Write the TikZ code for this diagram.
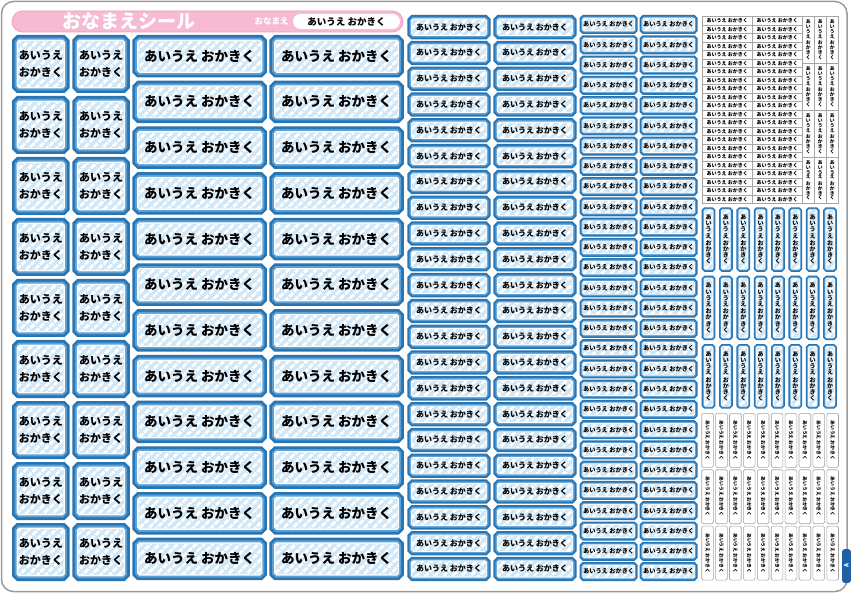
\documentclass[tikz,border=0pt]{standalone}
\usepackage{fontspec}
\setmainfont{Noto Sans CJK JP}
\usetikzlibrary{patterns.meta}
\definecolor{stkblue}{RGB}{40,117,180}
\definecolor{ringblue}{RGB}{92,160,212}
\definecolor{stklight}{RGB}{208,231,247}
\definecolor{pinkbar}{RGB}{246,186,210}
\definecolor{pinkline}{RGB}{240,160,195}
\definecolor{sheetgray}{RGB}{155,155,155}
\definecolor{tinygray}{RGB}{165,165,165}
\definecolor{tabblue}{RGB}{30,95,165}
\newcommand\nmtext{あいうえ おかきく}
\newcommand\nmvert{あ\\い\\う\\え\\[1.2pt]お\\か\\き\\く}
\tikzset{
  stk/.style n args={3}{inner sep=0pt, outer sep=0pt, text=black,
    preaction={draw=stkblue, line width=#1},
    preaction={draw=ringblue, line width=#2},
    preaction={draw=white, line width=#3},
    preaction={fill=stklight},
    pattern={Lines[angle=45,distance=6.4pt,line width=3.2pt]}, pattern color=white},
  sqstk/.style={stk={11.8pt}{6.4pt}{2.4pt}, rounded corners=1.5pt, minimum width=45.7pt, minimum height=46.2pt, align=center,
    font=\bfseries\fontsize{11}{16.5}\selectfont},
  widestk/.style={stk={11.8pt}{6.4pt}{2.4pt}, rounded corners=1.5pt, minimum width=122.7pt, minimum height=30.7pt,
    font=\bfseries\fontsize{13.5}{14}\selectfont},
  midstk/.style={stk={8.8pt}{4.8pt}{1.8pt}, rounded corners=1.5pt, minimum width=74.6pt, minimum height=15.5pt,
    font=\bfseries\fontsize{8}{9}\selectfont},
  smlstk/.style={stk={7pt}{3.8pt}{1.6pt}, rounded corners=1pt, minimum width=50.3pt, minimum height=12pt,
    font=\bfseries\fontsize{6.2}{7}\selectfont},
  vstk/.style={stk={5.6pt}{3pt}{1.4pt}, rounded corners=1pt, minimum width=8.1pt, minimum height=58.9pt, align=center,
    font=\bfseries\fontsize{6}{6.15}\selectfont},
  tinycell/.style={draw=tinygray, line width=0.6pt, fill=white, inner sep=0pt, outer sep=0pt, text=black},
  tinyh/.style={tinycell, minimum width=50pt, minimum height=8.5pt, font=\bfseries\fontsize{5}{5}\selectfont},
  tinyv/.style={tinycell, minimum width=12pt, minimum height=46.75pt, align=center, font=\bfseries\fontsize{4.8}{4.95}\selectfont},
  tinyr/.style={tinycell, rounded corners=1.5pt, minimum width=54pt, minimum height=11.7pt, rotate=-90, font=\bfseries\fontsize{4.8}{5}\selectfont},
  tabstyle/.style={fill=tabblue, rounded corners=3pt, text=white, inner sep=0pt, minimum width=34pt, minimum height=9pt, rotate=90, font=\bfseries\fontsize{6}{6}\selectfont},
}
\begin{document}
\begin{tikzpicture}[x=1pt,y=-1pt]
\useasboundingbox (0,0) rectangle (851,593);
\fill[white] (0,0) rectangle (851,593);
% sheet
\draw[sheetgray, line width=1.5pt, rounded corners=12pt, fill=white] (1.5,1.5) rectangle (847,591.5);
% title bar
\draw[pinkline, line width=0.8pt, fill=pinkbar, rounded corners=10.5pt] (12,11) rectangle (403,32);
\node[text=white, font=\bfseries\fontsize{19}{19}\selectfont, inner sep=0pt] (title) at (129,21.5) {おなまえシール};
\node[text=white, font=\bfseries\fontsize{8.5}{8.5}\selectfont, inner sep=0pt] (nmlabel) at (271.5,21.5) {おなまえ};
\node[fill=white, rounded corners=7.5pt, minimum width=107pt, minimum height=15pt, inner sep=0pt,
  font=\bfseries\fontsize{9.5}{9.5}\selectfont] (nmbox) at (346.5,21.5) {\nmtext};
% square stickers
\foreach \i in {0,...,8}{
  \node[sqstk] (sq-\i-0) at (40.75,{64+61*\i}) {あいうえ\\おかきく};
  \node[sqstk] (sq-\i-1) at (101,{64+61*\i}) {あいうえ\\おかきく};
}
% wide stickers
\foreach \i in {0,...,11}{
  \node[widestk] (wd-\i-0) at (199.7,{56.25+45.7*\i}) {\nmtext};
  \node[widestk] (wd-\i-1) at (336.65,{56.25+45.7*\i}) {\nmtext};
}
% medium stickers
\foreach \i in {0,...,21}{
  \node[midstk] (md-\i-0) at (449,{27.15+25.8*\i}) {\nmtext};
  \node[midstk] (md-\i-1) at (535,{27.15+25.8*\i}) {\nmtext};
}
% small stickers
\foreach \i in {0,...,27}{
  \node[smlstk] (sm-\i-0) at (608.65,{24.5+20.26*\i}) {\nmtext};
  \node[smlstk] (sm-\i-1) at (668.65,{24.5+20.26*\i}) {\nmtext};
}
% tiny grid
\foreach \i in {0,...,21}{
  \node[tinyh] (th-\i-0) at (727.3,{20.95+8.5*\i}) {\nmtext};
  \node[tinyh] (th-\i-1) at (777.3,{20.95+8.5*\i}) {\nmtext};
}
\foreach \i in {0,...,3}{
  \foreach \j in {0,1,2}{
    \node[tinyv] (tv-\i-\j) at ({808.3+12*\j},{40.075+46.75*\i}) {\nmvert};
  }
}
% blue vertical stickers
\foreach \k in {0,1,2}{
  \foreach \j in {0,...,7}{
    \node[vstk] (vb-\k-\j) at ({708.55+17.35*\j},{239.55+68.4*\k}) {\nmvert};
  }
}
% white tiny vertical stickers
\foreach \k in {0,1,2}{
  \foreach \j in {0,...,9}{
    \node[tinyr] (tr-\k-\j) at ({707.55+13.9*\j},{440.3+56.4*\k}) {\nmtext};
  }
}
% tab
\node[tabstyle] (tab) at (846.5,566) {A};
\end{tikzpicture}
\end{document}
